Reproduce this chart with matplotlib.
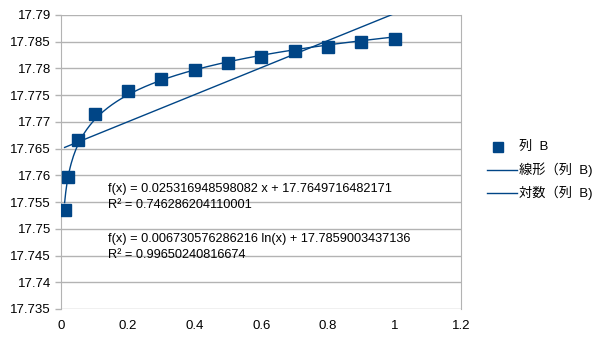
import numpy as np
import matplotlib.pyplot as plt

plt.rcParams['font.family'] = ['Liberation Sans', 'Noto Sans CJK JP', 'DejaVu Sans']

# measured data (列 B)
x_vals = [0.01, 0.02, 0.05, 0.1, 0.2, 0.3, 0.4, 0.5, 0.6, 0.7, 0.8, 0.9, 1.0]
y_vals = [17.7536, 17.7596, 17.7666, 17.7714, 17.7757, 17.7781, 17.7798,
          17.7810, 17.7821, 17.7832, 17.7841, 17.7849, 17.7856]

# trend line coefficients
lin_slope = 0.025316948598082
lin_icpt = 17.7649716482171
lin_r2 = 0.746286204110001
log_coef = 0.006730576286216
log_icpt = 17.7859003437136
log_r2 = 0.99650240816674

blue = '#004586'

fig = plt.figure(figsize=(6.05, 3.4), dpi=100)
ax = fig.add_axes([0.1013, 0.0912, 0.6615, 0.8647])

xs = np.linspace(x_vals[0], x_vals[-1], 300)
ax.plot(xs, lin_slope * xs + lin_icpt, color=blue, lw=1.0, zorder=2)
ax.plot(xs, log_coef * np.log(xs) + log_icpt, color=blue, lw=1.0, zorder=2)
ax.plot(x_vals, y_vals, ls='none', marker='s', ms=8.5, color=blue,
        mec=blue, zorder=3)

ax.set_xlim(0, 1.2)
ax.set_ylim(17.735, 17.79)
ax.set_xticks(np.arange(0, 1.21, 0.2))
ax.set_xticklabels(['0', '0.2', '0.4', '0.6', '0.8', '1', '1.2'])
yt = np.arange(17.735, 17.7901, 0.005)
ax.set_yticks(yt)
ax.set_yticklabels(['%g' % round(v, 3) for v in yt])
ax.grid(axis='y', color='#b3b3b3', lw=1)
ax.set_axisbelow(True)
for s in ['top', 'bottom']:
    ax.spines[s].set_visible(False)
for s in ['left', 'right']:
    ax.spines[s].set_color('#b3b3b3')
ax.tick_params(axis='both', colors='#b3b3b3', labelcolor='black',
               labelsize=9.5, length=4, width=1)
ax.tick_params(axis='x', length=0, pad=8)

fs = 9.2
ax.text(0.14, 17.7569, 'f(x) = %.15f x + %.13f' % (lin_slope, lin_icpt), fontsize=fs)
ax.text(0.14, 17.7539, 'R² = %.15f' % lin_r2, fontsize=fs)
ax.text(0.14, 17.7475, 'f(x) = %.15f ln(x) + %.13f' % (log_coef, log_icpt), fontsize=fs)
ax.text(0.14, 17.7445, 'R² = %.14f' % log_r2, fontsize=fs)

# legend drawn in figure coords
fig.add_artist(plt.Line2D([0.823], [0.567], ls='none', marker='s', ms=7.5,
                          color=blue))
fig.text(0.858, 0.567, '列  B', fontsize=9.5, va='center')
for yy, lab in [(0.500, '線形（列  B)'), (0.432, '対数（列  B)')]:
    fig.add_artist(plt.Line2D([0.805, 0.855], [yy, yy], color=blue, lw=1))
    fig.text(0.858, yy, lab, fontsize=9.5, va='center')

fig.savefig('out.png', dpi=100)
